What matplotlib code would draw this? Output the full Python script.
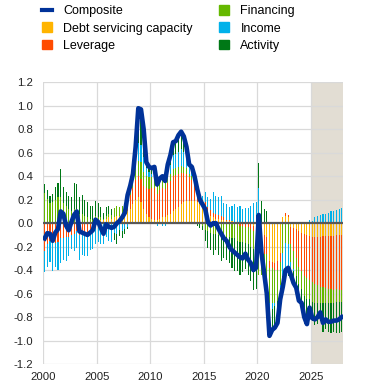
"""
Composite indicator and its contributions, quarterly 2000-2027 (projection shaded)
"""

import numpy as np
import matplotlib
matplotlib.use("Agg")
import matplotlib.pyplot as plt
from matplotlib.lines import Line2D
from matplotlib.patches import Patch

plt.rcParams['font.family'] = ['Liberation Sans', 'DejaVu Sans']

# quarters 2000Q1 .. 2027Q4
start_year = 2000
n_quarters = 112
projection_start = 2025

# contributions, one value per quarter
debt_servicing = [
    0, 0, 0, 0, 0, 0, 0, 0, 0, 0,
    0, 0, 0, 0, 0, 0, 0, 0, 0, .02,
    .02, .03, .03, .04, .05, .04, .05, .06, .06, .06,
    .07, .10, .12, .16, .20, .22, .18, .12, .08, .05,
    .04, .03, .03, .04, .05, .05, .07, .08, .10, .12,
    .14, .16, .18, .19, .19, .19, .19, .18, .16, .13,
    .10, .08, .06, .05, .04, .04, .03, .03, .02, .02,
    .02, .01, .01, 0, 0, 0, 0, -.01, -.02, -.02,
    -.04, -.08, -.10, -.12, -.32, -.33, -.34, -.32, -.25, .05,
    .06, .05, -.03, -.04, -.05, -.07, -.08, -.09, -.10, -.11,
    -.12, -.12, -.12, -.12, -.11, -.11, -.11, -.11, -.11, -.10, -.10, -.10,
]
leverage = [
    -.24, -.18, -.15, -.16, -.17, -.16, -.13, -.13, -.12, -.12,
    -.10, -.09, -.07, -.10, -.09, -.09, -.08, -.07, -.06, -.04,
    -.03, -.02, -.01, 0, 0, 0, 0, 0, 0, .02,
    .04, .10, .12, .14, .17, .18, .20, .20, .22, .24,
    .26, .27, .22, .24, .25, .24, .27, .28, .30, .29,
    .28, .27, .25, .23, .20, .18, .14, .13, .08, .07,
    .08, .06, .05, .04, .04, .03, .03, .02, .01, .01,
    0, 0, -.01, -.02, -.02, -.03, -.03, -.04, -.05, -.04,
    -.10, -.14, -.16, -.14, -.06, -.05, -.06, -.08, -.08, 0,
    .03, .02, -.15, -.20, -.25, -.30, -.33, -.36, -.37, -.37,
    -.38, -.40, -.41, -.42, -.43, -.44, -.45, -.45, -.46, -.46, -.47, -.47,
]
financing = [
    .26, .21, .17, .18, .20, .22, .22, .17, .15, .12,
    .10, .12, .12, .08, .08, .06, .05, .04, .03, .04,
    .03, .02, .01, .02, .03, .03, .08, .09, .08, .07,
    .06, .08, .05, .05, .10, .13, .14, .12, .10, .10,
    .09, .08, .06, .06, .06, .05, .06, .06, .06, .06,
    .06, .06, .05, .05, .03, .03, .02, 0, -.01, -.02,
    -.06, -.07, -.08, -.09, -.09, -.10, -.11, -.11, -.12, -.12,
    -.13, -.13, -.14, -.14, -.14, -.14, -.15, -.15, -.15, -.16,
    -.30, -.22, -.28, -.30, -.30, -.30, -.28, -.26, -.20, -.25,
    -.17, -.18, -.15, -.15, -.15, -.15, -.15, -.17, -.18, -.17,
    -.17, -.16, -.15, -.14, -.14, -.13, -.12, -.12, -.11, -.11, -.10, -.10,
]
income = [
    -.18, -.19, -.18, -.25, -.20, -.24, -.21, -.18, -.20, -.16,
    -.12, -.15, -.14, -.21, -.18, -.19, -.20, -.16, -.16, -.14,
    -.13, -.16, -.17, -.12, -.15, -.16, -.08, -.09, -.06, -.07,
    -.05, -.03, 0, .03, .08, .15, .15, .12, .07, .05,
    .03, .04, -.02, -.01, -.02, -.02, .05, .08, .12, .12,
    .13, .14, .13, .10, .06, .06, .05, 0, 0, .03,
    .09, .08, .10, .18, .15, .15, .17, .12, .13, .11,
    .13, .15, .13, .15, .12, .13, .13, .15, .17, .18,
    .30, 0, 0, -.14, -.08, -.05, -.03, 0, -.02, -.20,
    -.24, -.20, -.05, -.02, 0, 0, 0, 0, 0, .03,
    .02, .05, .06, .07, .08, .08, .09, .10, .10, .11, .12, .13,
]
activity = [
    .07, .07, .06, .07, .11, .12, .24, .14, .12, .11,
    .12, .22, .21, .14, .16, .14, .13, .11, .12, .13,
    .12, .09, .05, .08, .07, .05, -.06, -.09, -.05, -.06,
    -.04, -.02, .03, .04, .10, .30, .30, .24, .05, .04,
    .05, .06, .04, .04, .04, .03, .05, .08, .11, .11,
    .14, .15, .13, .08, .02, .02, 0, -.02, -.03, -.04,
    -.09, -.14, -.15, -.18, -.14, -.17, -.21, -.19, -.19, -.22,
    -.25, -.28, -.26, -.28, -.26, -.22, -.26, -.29, -.35, -.34,
    .21, .19, .12, .10, -.20, -.18, -.18, -.19, -.10, -.14,
    -.08, -.07, -.06, -.10, -.10, -.14, -.12, -.18, -.21, -.10,
    -.16, -.19, -.18, -.15, -.25, -.22, -.25, -.26, -.25, -.27, -.27, -.26,
]
composite = [
    -.13, -.085, -.09, -.15, -.08, -.05, .10, .08, -.02, -.06,
    .01, .07, .10, -.07, -.08, -.09, -.10, -.08, -.06, .03,
    .01, -.04, -.09, -.01, -.03, -.04, -.03, 0, .02, .05,
    .09, .24, .32, .42, .65, .98, .97, .80, .52, .48,
    .47, .48, .33, .38, .40, .36, .50, .58, .69, .70,
    .75, .78, .74, .65, .50, .48, .40, .29, .20, .16,
    .12, .01, -.02, 0, 0, -.05, -.09, -.13, -.15, -.20,
    -.23, -.25, -.27, -.29, -.30, -.26, -.31, -.34, -.40, -.38,
    .07, -.25, -.42, -.60, -.96, -.91, -.89, -.85, -.65, -.54,
    -.40, -.38, -.44, -.51, -.55, -.66, -.68, -.80, -.86, -.72,
    -.81, -.82, -.80, -.76, -.85, -.82, -.84, -.84, -.83, -.83, -.82, -.80,
]

components = [
    ("Debt servicing capacity", debt_servicing, "#ffb400"),
    ("Leverage", leverage, "#ff4b00"),
    ("Financing", financing, "#65b800"),
    ("Income", income, "#00b1ea"),
    ("Activity", activity, "#007816"),
]

x = start_year + 0.125 + 0.25 * np.arange(n_quarters)

fig = plt.figure(figsize=(3.71, 3.90), dpi=100)
ax = fig.add_axes([0.1167, 0.0667, 0.808, 0.722])

ax.axvspan(projection_start, 2028, color="#e2ddd3", lw=0, zorder=0)

# stacked bars: positives go up from zero, negatives go down
pos_base = np.zeros(n_quarters)
neg_base = np.zeros(n_quarters)
for name, vals, col in components:
    v = np.array(vals, dtype=float)
    base = np.where(v >= 0, pos_base, neg_base)
    ax.bar(x, v, bottom=base, width=0.1, color=col, lw=0,
           antialiased=False, zorder=2)
    pos_base += np.clip(v, 0, None)
    neg_base += np.clip(v, None, 0)

ax.axhline(0, color="#595959", lw=1.6, zorder=3)
ax.plot(x, composite, color="#003299", lw=3.3, solid_joinstyle="round", zorder=4)

ax.set_xlim(2000, 2028)
ax.set_ylim(-1.2, 1.2)
yt = np.round(np.arange(-1.2, 1.21, 0.2), 1)
ax.set_yticks(yt)
ax.set_yticklabels([f"{v:.1f}".replace("-0.0", "0.0") for v in yt])
ax.set_xticks(range(2000, 2026, 5))
ax.set_xticklabels([str(y) for y in range(2000, 2026, 5)])
ax.tick_params(length=0, labelsize=8.2, colors="#222222")
ax.tick_params(axis="y", pad=7.5)
ax.tick_params(axis="x", pad=5.5)
ax.grid(True, color="#d9d9d9", lw=0.9, zorder=1)
ax.set_axisbelow(True)
for s in ax.spines.values():
    s.set_visible(False)

handles = [
    Line2D([0], [0], color="#003299", lw=3),
    Patch(color="#ffb400"),
    Patch(color="#ff4b00"),
    Patch(color="#65b800"),
    Patch(color="#00b1ea"),
    Patch(color="#007816"),
]
labels = ["Composite", "Debt servicing capacity", "Leverage",
          "Financing", "Income", "Activity"]
fig.legend(handles, labels, ncol=2, loc="upper left",
           bbox_to_anchor=(0.112, 0.987), frameon=False, fontsize=9,
           handlelength=0.8, handleheight=0.8, handletextpad=0.95,
           columnspacing=2.05, labelspacing=0.42, borderpad=0,
           borderaxespad=0)

fig.savefig("out.png", dpi=100)
